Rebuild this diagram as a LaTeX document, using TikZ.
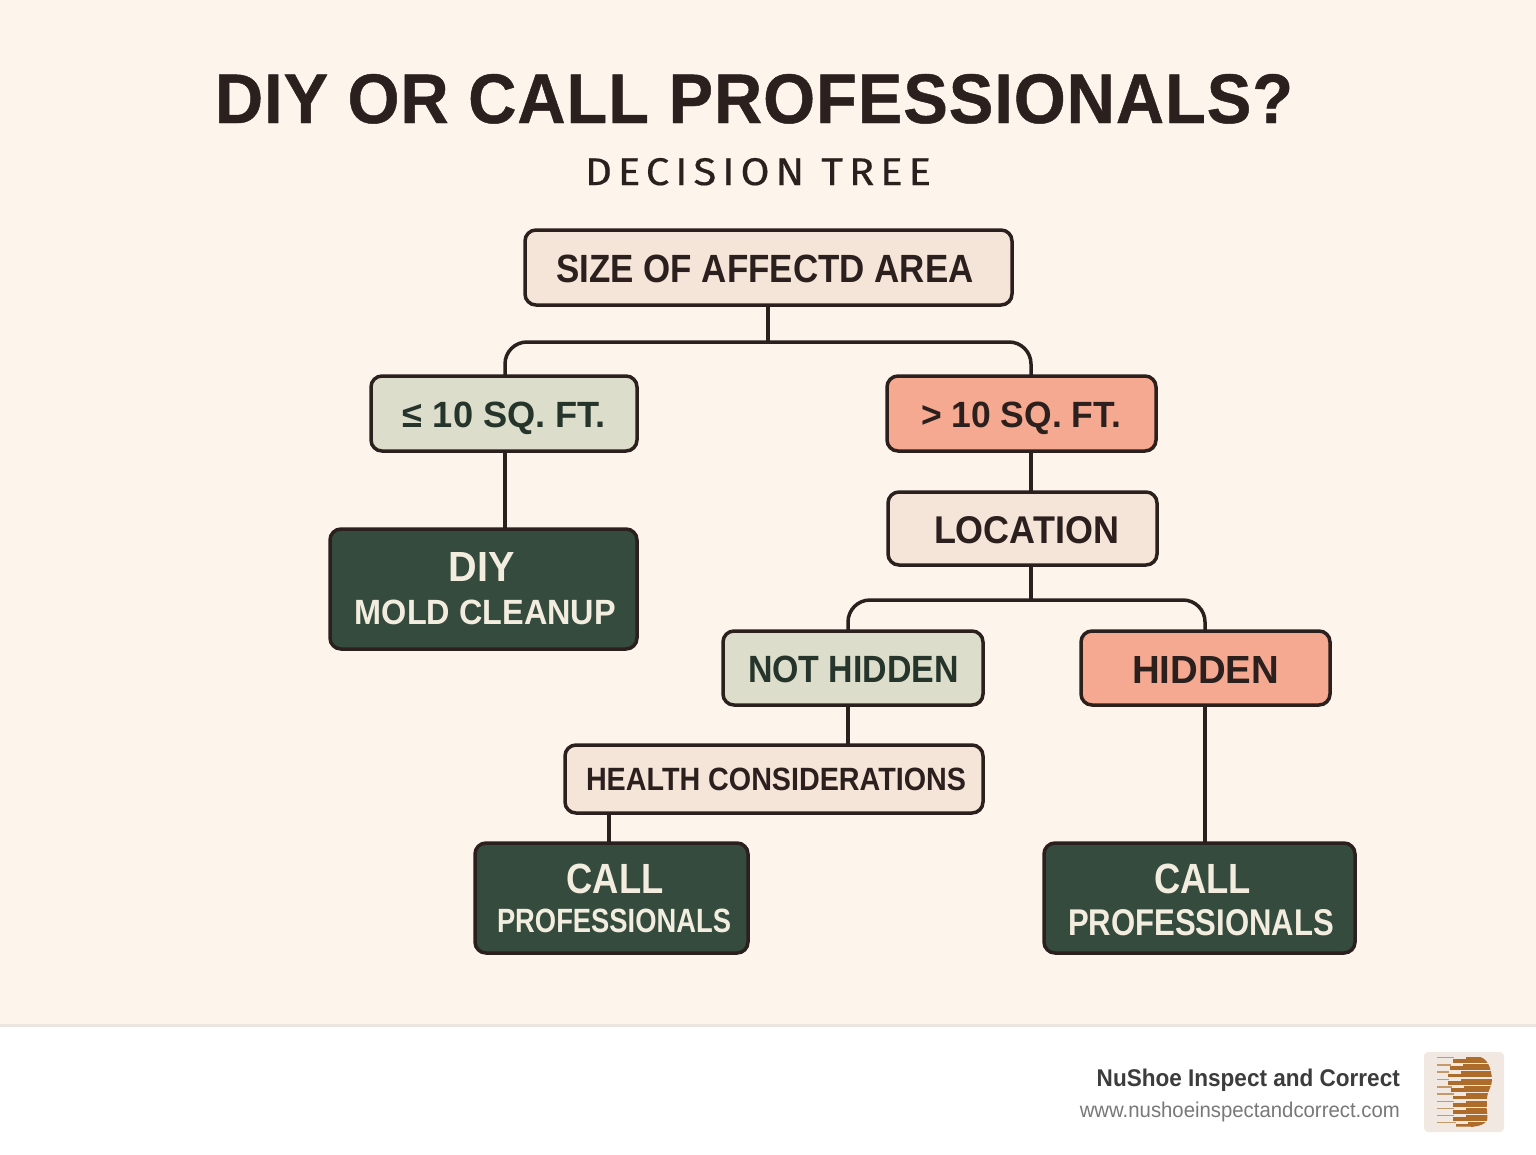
\documentclass[tikz,border=0pt]{standalone}
\usepackage{fontspec}
\setmainfont{Liberation Sans}
\newfontfamily\titlefont{Liberation Sans Bold}[LetterSpace=1.5,FakeBold=0.7]
\newfontfamily\subfont{Fira Sans}[LetterSpace=14,FakeBold=0.4]
\newfontfamily\footfont{Liberation Sans}
\definecolor{bgc}{HTML}{FDF4EC}
\definecolor{ink}{HTML}{2B201E}
\definecolor{cream}{HTML}{F5E4D8}
\definecolor{sage}{HTML}{DDDDCB}
\definecolor{salmon}{HTML}{F5A990}
\definecolor{forest}{HTML}{344B3D}
\definecolor{darkgreen}{HTML}{25352B}
\definecolor{paletext}{HTML}{F3EDDF}
\definecolor{brown}{HTML}{AE6C2A}
\definecolor{thinbrown}{HTML}{C49A6C}
\definecolor{logobg}{HTML}{F0E8E1}
\definecolor{footline}{HTML}{EAE5E0}
% text centred at dx from the node centre, baseline dy under it, w wide, cap height h
\newcommand{\T}[5]{\raisebox{-#2pt}[0pt][0pt]{\makebox[0pt]{\hspace*{#1pt}\hspace*{#1pt}\resizebox{#3pt}{#4pt}{\bfseries #5}}}}
\newcommand{\bx}[7]{\node[#6, minimum width={#3pt-#1pt-2pt}, minimum height={#4pt-#2pt-2pt}] (#5) at ({(#1+#3)/2},{-(#2+#4)/2}) {#7};}
\tikzset{
  base/.style={draw=ink, line width=3.5pt, rounded corners=11pt, inner sep=0pt, outer sep=0pt},
  creambox/.style={base, fill=cream, text=ink},
  sagebox/.style={base, fill=sage, text=darkgreen},
  salmonbox/.style={base, fill=salmon, text=ink},
  forestbox/.style={base, fill=forest, text=paletext},
  conn/.style={draw=ink, line width=3.5pt, rounded corners=22pt}
}
\begin{document}
\begin{tikzpicture}[x=1pt,y=1pt]
\useasboundingbox (0,0) rectangle (1536,-1154);
\fill[bgc] (0,0) rectangle (1536,-1025);
\fill[white] (0,-1025) rectangle (1536,-1154);
\fill[footline] (0,-1024) rectangle (1536,-1027);

\node[inner sep=0pt, text=ink] (title) at (754,-123) {\raisebox{0pt}[0pt][0pt]{\makebox[0pt]{\resizebox{1078pt}{49pt}{\titlefont DIY OR CALL PROFESSIONALS?}}}};
\node[inner sep=0pt, text=ink] (subtitle) at (758,-185) {\raisebox{0pt}[0pt][0pt]{\makebox[0pt]{\resizebox{346pt}{27pt}{\subfont DECISION TREE}}}};

\coordinate (j1) at (768,-342);
\coordinate (j2) at (1031,-600);
\coordinate (rtop) at (1031,-375);
\coordinate (lbot) at (505,-452);
\coordinate (hl) at (848,-600);
\coordinate (hr) at (1205,-600);
\coordinate (hb) at (609,-814);

\draw[conn] (505,-375) |- (j1) -| (rtop);

\bx{524}{229}{1013}{306}{root}{creambox}{\T{-3.5}{14.5}{417}{27.5}{SIZE OF AFFECTD AREA}}
\bx{370}{375}{638}{452}{small}{sagebox}{\T{0.5}{13.5}{203}{25.5}{≤ 10 SQ. FT.}}
\bx{886}{375}{1157}{452}{large}{salmonbox}{\T{-0.5}{13.5}{200}{25.5}{> 10 SQ. FT.}}
\bx{329}{528}{638}{650}{diy}{forestbox}{\T{-1.5}{-8}{66}{29}{DIY}\T{2}{35}{261}{24.5}{MOLD CLEANUP}}
\bx{887}{491}{1158}{566}{location}{creambox}{\T{4}{14.5}{185}{27}{LOCATION}}
\bx{722}{630}{984}{706}{nothidden}{sagebox}{\T{0.5}{14}{211}{26.5}{NOT HIDDEN}}
\bx{1080}{630}{1331}{706}{hidden}{salmonbox}{\T{0}{15}{147}{27}{HIDDEN}}
\bx{564}{744}{984}{814}{health}{creambox}{\T{2}{11}{380}{22.5}{HEALTH CONSIDERATIONS}}
\bx{474}{842}{749}{954}{callA}{forestbox}{\T{3.5}{-5}{97}{29.5}{CALL}\T{2.5}{34}{234}{23.5}{PROFESSIONALS}}
\bx{1043}{842}{1356}{954}{callB}{forestbox}{\T{3}{-5}{97}{29.5}{CALL}\T{1.5}{37}{266}{26}{PROFESSIONALS}}

\draw[conn] (root.south -| j1) -- (j1);
\draw[conn] (small.south -| lbot) -- (diy.north -| lbot);
\draw[conn] (large.south -| rtop) -- (location.north -| rtop);
\draw[conn] (location.south -| j2) -- (j2);
\draw[conn] (nothidden.north -| hl) |- (j2) -| (hidden.north -| hr);
\draw[conn] (nothidden.south -| hl) -- (health.north -| hl);
\draw[conn] (health.south -| hb) -- (callA.north -| hb);
\draw[conn] (hidden.south -| hr) -- (callB.north -| hr);

\node[anchor=base east, inner sep=0pt, text={rgb,255:red,60;green,60;blue,60}, font=\footfont\bfseries] (brand) at (1400,-1086) {\resizebox{303pt}{17.5pt}{NuShoe Inspect and Correct}};
\node[anchor=base east, inner sep=0pt, text={rgb,255:red,120;green,120;blue,120}, font=\footfont] (web) at (1400,-1117) {\resizebox{320pt}{15.5pt}{www.nushoeinspectandcorrect.com}};

\fill[logobg, rounded corners=4pt] (1424,-1052) rectangle (1504,-1132);
\begin{scope}[shift={(1424,-1052)}, x=0.3333pt, y=-0.3333pt]
  \foreach \yt/\xs in {14/87,36/78,58/72,80/72,102/82,124/88,146/88,167/88,188/88,209/95}
    \fill[thinbrown] (38,\yt) rectangle (\xs+2,\yt+4.5);
  \clip (0,14) -- (160,14) .. controls (190,14) and (203,50) .. (204,85)
     .. controls (204,105) and (190,115) .. (189,140) -- (188,170)
     .. controls (190,185) and (192,200) .. (188,208)
     .. controls (175,222) and (150,226) .. (130,224) -- (0,224) -- cycle;
  \foreach \yt/\xs in {14/87,36/78,58/72,80/72,102/82,124/88,146/88,167/88,188/88,209/95}{
    \fill[brown] (\xs,\yt+7) rectangle (240,\yt+18);
    \fill[brown] (\xs+38,\yt) rectangle (240,\yt+7);
  }
\end{scope}
\end{tikzpicture}
\end{document}
